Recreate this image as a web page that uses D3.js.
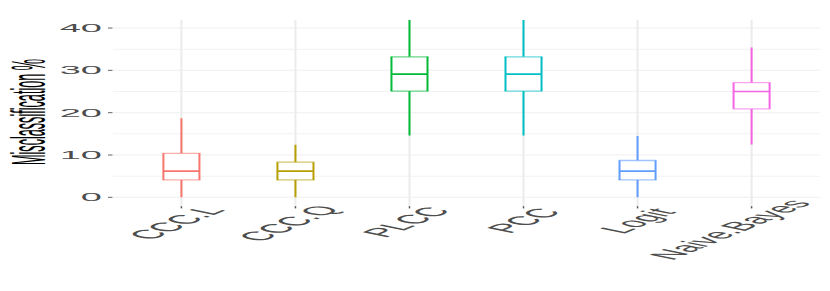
<!DOCTYPE html>
<html>
<head>
<meta charset="utf-8">
<script src="https://cdn.jsdelivr.net/npm/d3@7"></script>
<style>
  html, body { margin: 0; padding: 0; background: #fff; }
  svg { display: block; }
</style>
</head>
<body>
<svg id="chart"></svg>
<script>
// ---- data ----
const categories = ["CCC.L", "CCC.Q", "PLCC", "PCC", "Logit", "Naive.Bayes"];
const lowerWhisker = [0, 0, 14.6, 14.6, 0, 12.5];
const q1 = [4.1, 4.1, 25.1, 25.1, 4.1, 20.9];
const medians = [6.2, 6.2, 29.1, 29.1, 6.2, 25.0];
const q3 = [10.4, 8.3, 33.2, 33.2, 8.7, 27.1];
const upperWhisker = [18.7, 12.4, 42.5, 42.5, 14.5, 35.4];
const colors = ["#F8766D", "#B79F00", "#00BA38", "#00BFC4", "#619CFF", "#F564E3"];
const yTicks = [0, 10, 20, 30, 40];
const yMinorTicks = [5, 15, 25, 35];
const yTitle = "Misclassification %";

// ---- layout (drawn in a tall space, then squeezed vertically like the reference) ----
const W = 830, Hout = 291, K = 3.5, H = Hout * K;
const svg = d3.select("#chart")
  .attr("width", W).attr("height", Hout)
  .attr("viewBox", `0 0 ${W} ${H}`)
  .attr("preserveAspectRatio", "none");

const panel = { left: 113, right: 820, top: 20 * K, bottom: 206.2 * K };
const x = d3.scalePoint().domain(categories).range([panel.left, panel.right]).padding(0.6);
const y = d3.scaleLinear().domain([-2.1, 41.9]).range([panel.bottom, panel.top]);

const defs = svg.append("defs");
defs.append("clipPath").attr("id", "clip").append("rect")
  .attr("x", panel.left).attr("y", panel.top)
  .attr("width", panel.right - panel.left).attr("height", panel.bottom - panel.top);

const grid = svg.append("g").attr("clip-path", "url(#clip)");
// horizontal grid lines (major + minor)
grid.selectAll("line.hmin").data(yMinorTicks).join("line")
  .attr("x1", panel.left).attr("x2", panel.right)
  .attr("y1", d => y(d)).attr("y2", d => y(d))
  .attr("stroke", "#F2F2F2").attr("stroke-width", 1.0 * K);
grid.selectAll("line.hmaj").data(yTicks).join("line")
  .attr("x1", panel.left).attr("x2", panel.right)
  .attr("y1", d => y(d)).attr("y2", d => y(d))
  .attr("stroke", "#EFEFEF").attr("stroke-width", 1.0 * K);
// vertical grid lines
grid.selectAll("line.v").data(categories).join("line")
  .attr("x1", d => x(d)).attr("x2", d => x(d))
  .attr("y1", panel.top).attr("y2", panel.bottom)
  .attr("stroke", "#EBEBEB").attr("stroke-width", 2);

// ---- boxes ----
const bw = x.step() * 0.316;
const boxes = svg.append("g").attr("clip-path", "url(#clip)");
categories.forEach((c, i) => {
  const cx = x(c), col = colors[i];
  const g = boxes.append("g");
  // whiskers
  g.append("line").attr("x1", cx).attr("x2", cx)
    .attr("y1", y(q3[i])).attr("y2", y(upperWhisker[i]))
    .attr("stroke", col).attr("stroke-width", 2);
  g.append("line").attr("x1", cx).attr("x2", cx)
    .attr("y1", y(q1[i])).attr("y2", y(lowerWhisker[i]))
    .attr("stroke", col).attr("stroke-width", 2);
  // box fill
  g.append("rect").attr("x", cx - bw / 2).attr("width", bw)
    .attr("y", y(q3[i])).attr("height", y(q1[i]) - y(q3[i]))
    .attr("fill", "#fff");
  // vertical edges
  [cx - bw / 2, cx + bw / 2].forEach(ex => {
    g.append("line").attr("x1", ex).attr("x2", ex)
      .attr("y1", y(q3[i])).attr("y2", y(q1[i]))
      .attr("stroke", col).attr("stroke-width", 2);
  });
  // horizontal edges
  [q3[i], q1[i]].forEach(v => {
    g.append("line").attr("x1", cx - bw / 2 - 1).attr("x2", cx + bw / 2 + 1)
      .attr("y1", y(v)).attr("y2", y(v))
      .attr("stroke", col).attr("stroke-opacity", 0.6).attr("stroke-width", 1.3 * K);
  });
  // median
  g.append("line").attr("x1", cx - bw / 2).attr("x2", cx + bw / 2)
    .attr("y1", y(medians[i])).attr("y2", y(medians[i]))
    .attr("stroke", col).attr("stroke-width", 1.6 * K);
});

// ---- y axis ----
const ya = svg.append("g");
ya.selectAll("line").data(yTicks).join("line")
  .attr("x1", 108).attr("x2", 112.5)
  .attr("y1", d => y(d)).attr("y2", d => y(d))
  .attr("stroke", "#666").attr("stroke-width", 1.0 * K);
ya.selectAll("text").data(yTicks).join("text")
  .attr("x", 102).attr("y", d => y(d)).attr("dy", "0.36em")
  .attr("text-anchor", "end")
  .attr("font-family", "Liberation Sans, Arial, sans-serif")
  .attr("font-size", 38).attr("fill", "#4D4D4D")
  .text(d => d);

// y title
svg.append("text")
  .attr("transform", `translate(45, ${112 * K}) rotate(-90)`)
  .attr("text-anchor", "middle")
  .attr("font-family", "Liberation Sans, Arial, sans-serif")
  .attr("font-size", 48).attr("fill", "#000")
  .attr("textLength", 106 * K).attr("lengthAdjust", "spacingAndGlyphs")
  .text(yTitle);

// ---- x axis ----
const xa = svg.append("g");
xa.selectAll("line").data(categories).join("line")
  .attr("x1", d => x(d)).attr("x2", d => x(d))
  .attr("y1", panel.bottom).attr("y2", panel.bottom + 2.2 * K)
  .attr("stroke", "#555").attr("stroke-width", 1.5);
const anchorY = 212.5 * K;
categories.forEach(c => {
  const g = xa.append("g").attr("transform", `translate(${x(c)}, ${anchorY}) rotate(-55)`);
  const t = g.append("text")
    .attr("font-family", "Liberation Sans, Arial, sans-serif")
    .attr("font-size", 43.5).attr("fill", "#4D4D4D")
    .attr("dy", "0.72em")
    .text(c);
  const L = t.node().getComputedTextLength();
  t.attr("x", -0.75 * L);
});
</script>
</body>
</html>
